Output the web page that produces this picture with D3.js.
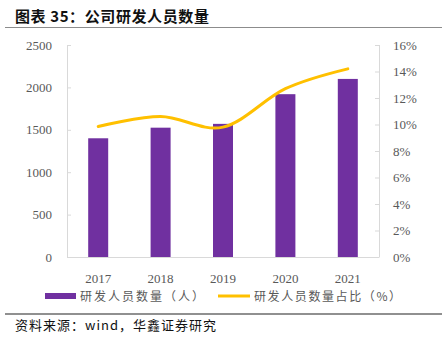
<!DOCTYPE html>
<html>
<head>
<meta charset="utf-8">
<script src="https://cdn.jsdelivr.net/npm/d3@7"></script>
<style>
  body { margin: 0; background: #fff; }
  svg { display: block; }
</style>
</head>
<body>
<script>
// R&D headcount and share of staff, 2017-2021
var years = ["2017", "2018", "2019", "2020", "2021"];
var staff = [1400, 1525, 1570, 1920, 2100];
var share = [9.85, 10.6, 9.8, 12.7, 14.2];
var leftTicks = [0, 500, 1000, 1500, 2000, 2500];
var rightTicks = [0, 2, 4, 6, 8, 10, 12, 14, 16];

var w = 442, h = 342;
var plotL = 67, plotR = 379, plotT = 45, plotB = 257;
var cjk = "'Noto Sans CJK SC', sans-serif";
var serif = "'Liberation Serif', 'Times New Roman', serif";

var svg = d3.select("body").append("svg")
  .attr("width", w)
  .attr("height", h);

// title and rules
svg.append("text")
  .attr("x", 15).attr("y", 22)
  .attr("font-family", cjk)
  .attr("font-weight", "bold")
  .attr("font-size", 15)
  .attr("letter-spacing", 0.6)
  .attr("fill", "#111")
  .text("图表 35：公司研发人员数量");
svg.append("line")
  .attr("x1", 5).attr("x2", w).attr("y1", 27.5).attr("y2", 27.5)
  .attr("stroke", "#8c8c8c").attr("stroke-width", 1);
svg.append("line")
  .attr("x1", 5).attr("x2", w).attr("y1", 314).attr("y2", 314)
  .attr("stroke", "#222").attr("stroke-width", 1.2);
svg.append("text")
  .attr("x", 15).attr("y", 330)
  .attr("font-family", cjk)
  .attr("font-size", 13)
  .attr("letter-spacing", 1)
  .attr("fill", "#111")
  .text("资料来源：wind，华鑫证券研究");

var x = d3.scaleBand().domain(years).range([plotL, plotR]);
var yL = d3.scaleLinear().domain([0, 2500]).range([plotB, plotT]);
var yR = d3.scaleLinear().domain([0, 16]).range([plotB, plotT]);

var axisColor = "#d9d9d9";
var textColor = "#595959";

var gL = svg.append("g")
  .attr("transform", "translate(" + plotL + ",0)")
  .call(d3.axisRight(yL).tickValues(leftTicks).tickSize(4).tickFormat(""));
var gR = svg.append("g")
  .attr("transform", "translate(" + plotR + ",0)")
  .call(d3.axisLeft(yR).tickValues(rightTicks).tickSize(4).tickFormat(""));
[gL, gR].forEach(function(g) {
  g.select(".domain").attr("d", "M0.5," + plotT + "V" + plotB).attr("stroke", axisColor);
  g.selectAll(".tick line").attr("stroke", axisColor);
});
svg.append("line")
  .attr("x1", plotL).attr("x2", plotR + 0.5)
  .attr("y1", plotB + 0.5).attr("y2", plotB + 0.5)
  .attr("stroke", axisColor);

// tick labels
svg.selectAll(".lt").data(leftTicks).enter().append("text")
  .attr("x", 52).attr("y", function(d) { return yL(d) + 4.5; })
  .attr("text-anchor", "end")
  .attr("font-family", serif).attr("font-size", 13).attr("fill", textColor)
  .text(function(d) { return d; });
svg.selectAll(".rt").data(rightTicks).enter().append("text")
  .attr("x", 393).attr("y", function(d) { return yR(d) + 4.5; })
  .attr("font-family", serif).attr("font-size", 13).attr("fill", textColor)
  .text(function(d) { return d + "%"; });
svg.selectAll(".xt").data(years).enter().append("text")
  .attr("x", function(d) { return x(d) + x.bandwidth() / 2; })
  .attr("y", 283)
  .attr("text-anchor", "middle")
  .attr("font-family", serif).attr("font-size", 13).attr("fill", textColor)
  .text(function(d) { return d; });

// bars
var barW = 20;
svg.selectAll(".bar").data(years).enter().append("rect")
  .attr("x", function(d) { return x(d) + x.bandwidth() / 2 - barW / 2; })
  .attr("y", function(d, i) { return yL(staff[i]); })
  .attr("width", barW)
  .attr("height", function(d, i) { return plotB - yL(staff[i]); })
  .attr("fill", "#7030a0");

// smoothed share line
var line = d3.line()
  .x(function(d, i) { return x(years[i]) + x.bandwidth() / 2; })
  .y(function(d) { return yR(d); })
  .curve(d3.curveCardinal.tension(0));
svg.append("path")
  .datum(share)
  .attr("d", line)
  .attr("fill", "none")
  .attr("stroke", "#ffc000")
  .attr("stroke-width", 3)
  .attr("stroke-linecap", "round");

// legend
var ly = 296;
svg.append("rect")
  .attr("x", 45).attr("y", ly - 3).attr("width", 31).attr("height", 6)
  .attr("fill", "#7030a0");
svg.append("text")
  .attr("x", 80).attr("y", ly + 4.5)
  .attr("font-family", cjk).attr("font-size", 12)
  .attr("letter-spacing", 2).attr("fill", textColor)
  .text("研发人员数量（人）");
svg.append("line")
  .attr("x1", 218).attr("x2", 250).attr("y1", ly).attr("y2", ly)
  .attr("stroke", "#ffc000").attr("stroke-width", 3);
svg.append("text")
  .attr("x", 254).attr("y", ly + 4.5)
  .attr("font-family", cjk).attr("font-size", 12)
  .attr("letter-spacing", 1.6).attr("fill", textColor)
  .text("研发人员数量占比（%）");
</script>
</body>
</html>
